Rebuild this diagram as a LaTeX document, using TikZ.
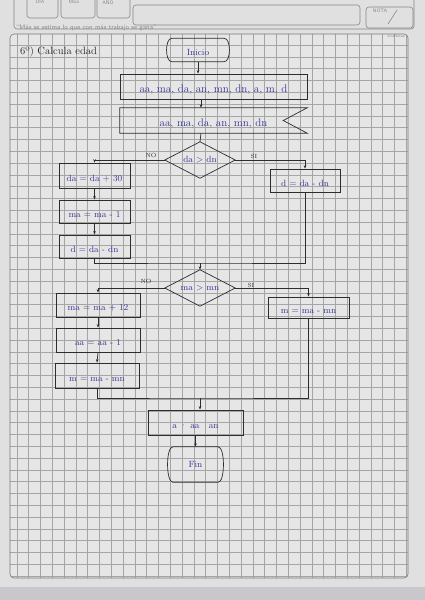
\documentclass[tikz,border=0pt]{standalone}
\usetikzlibrary{arrows.meta}
\definecolor{paper}{RGB}{224,224,224}
\definecolor{paperin}{RGB}{230,230,230}
\definecolor{edgec}{RGB}{202,199,204}
\definecolor{gridc}{RGB}{165,165,165}
\definecolor{framec}{RGB}{120,120,120}
\definecolor{printc}{RGB}{135,135,135}
\definecolor{ink}{RGB}{55,55,150}
\definecolor{pen}{RGB}{45,45,45}
\begin{document}
\begin{tikzpicture}[x=1pt,y=-1pt,
  line/.style={draw=pen,line width=0.7pt},
  arr/.style={line,-{Stealth[length=3.5pt,width=2.6pt]}},
  low/.style={text height=13pt,text depth=2pt},
  box/.style={line,low,minimum width=#1,minimum height=24pt,inner sep=0pt,text=ink,font=\fontsize{9}{10}\selectfont},
  plain/.style={inner sep=0pt,text=ink,font=\fontsize{9}{10}\selectfont},
  lab/.style={inner sep=0pt,text=pen,font=\fontsize{6}{7}\selectfont},
  printed/.style={inner sep=0pt,text=printc,font=\sffamily\fontsize{5}{6}\selectfont},
  gridline/.style={draw=gridc,line width=0.3pt},
  hdr/.style={draw=printc,line width=0.6pt,rounded corners=3pt}]
\useasboundingbox (0,0) rectangle (425,600);
% paper
\fill[paper] (0,0) rectangle (425,600);
\fill[edgec] (0,587) rectangle (425,600);
\fill[paperin,rounded corners=4pt] (10,34) rectangle (408,578);
\begin{scope}
  \clip[rounded corners=4pt] (10,34) rectangle (408,578);
  \foreach \k in {0,...,35} \draw[gridline] ({4.9+\k*11.8},30) -- ({4.9+\k*11.8},585);
  \foreach \k in {2,...,49} \draw[gridline] (5,{9.5+\k*11.8}) -- (415,{9.5+\k*11.8});
\end{scope}
\draw[framec,line width=0.6pt,rounded corners=4pt] (10,34) rectangle (408,578);
% header
\draw[hdr] (14,-6) rectangle (414,29);
\draw[hdr] (27,-6) rectangle (58,18);
\draw[hdr] (61,-6) rectangle (95,18);
\draw[hdr] (97,-6) rectangle (130,18);
\draw[hdr] (133,5) rectangle (360,25);
\draw[hdr] (366,7) rectangle (413,28);
\draw[printc,line width=0.6pt] (397,10) -- (388,24);
\node[printed] (tdia) at (40,2) {DIA};
\node[printed] (tmes) at (74,2) {MES};
\node[printed] (tano) at (108,2) {AÑO};
\node[printed] (tnota) at (380,11) {NOTA};
\node[printed,font=\sffamily\fontsize{6.5}{7}\selectfont,anchor=west] (quote) at (16,28) {“Más se estima lo que con más trabajo se gana”};
\node[printed,font=\sffamily\fontsize{4}{5}\selectfont] (brand) at (396,36) {vivaNotas};
% title
\node[inner sep=0pt,text=pen,font=\fontsize{10.5}{11}\selectfont,anchor=west] (title) at (20,52) {6º) Calcula edad};
% column coordinate
\coordinate (cx) at (201,0);
% start
\node[plain,low,minimum width=62pt,minimum height=23pt] (ini) at (198,50) {Inicio};
\draw[line] ([xshift=5pt]ini.north west) -- ([xshift=-5pt]ini.north east)
  .. controls ([xshift=2pt]ini.north east) and ([xshift=2pt]ini.south east) .. ([xshift=-5pt]ini.south east)
  -- ([xshift=5pt]ini.south west)
  .. controls ([xshift=-2pt]ini.south west) and ([xshift=-2pt]ini.north west) .. cycle;
% input
\node[box=187pt,minimum height=25pt,font=\fontsize{11}{12}\selectfont] (in1) at (213.5,86.5) {aa, ma, da, an, mn, dn, a, m, d};
% output
\node[plain,low,minimum width=187pt,minimum height=25pt,font=\fontsize{11}{12}\selectfont] (out1) at (213.5,120.5) {aa, ma, da, an, mn, dn\hspace{20pt}};
\draw[line] (out1.north west) -- (out1.north east) -- ([xshift=-24pt]out1.east) -- (out1.south east) -- (out1.south west) -- cycle;
% decision 1
\node[plain,minimum width=70pt,minimum height=36pt] (d1) at (200,160) {da > dn};
\draw[line] (d1.north) -- (d1.east) -- (d1.south) -- (d1.west) -- cycle;
\node[lab] (no1) at (151,155) {NO};
\node[lab] (si1) at (254,156) {SI};
\node[box=71pt,minimum height=25pt] (a1) at (94.5,175.5) {da = da + 30};
\node[box=71pt,minimum height=23pt] (a2) at (94.5,211.5) {ma = ma - 1};
\node[box=71pt,minimum height=23pt] (a3) at (94.5,246.5) {d = da - dn};
\node[box=70pt,minimum height=23pt] (b1) at (305,180.5) {d = da - dn};
\coordinate (m1) at (200,263);
% decision 2
\node[plain,minimum width=70pt,minimum height=36pt] (d2) at (200,288) {ma > mn};
\draw[line] (d2.north) -- (d2.east) -- (d2.south) -- (d2.west) -- cycle;
\node[lab] (no2) at (146,281) {NO};
\node[lab] (si2) at (251,285) {SI};
\node[box=84pt,minimum height=24pt] (c1) at (98,305) {ma = ma + 12};
\node[box=84pt,minimum height=24pt] (c2) at (98,340) {aa = aa - 1};
\node[box=84pt,minimum height=25pt] (c3) at (97,375.5) {m = ma - mn};
\node[box=81pt,minimum height=21pt] (e1) at (308.5,307.5) {m = ma - mn};
\coordinate (m2) at (200,398);
% output 2 and end
\node[box=95pt,minimum height=25pt] (o2) at (195.5,422.5) {a · aa \ \ an};
\node[plain,minimum width=55pt,minimum height=35pt] (fin) at (195.5,464.5) {Fin};
\draw[line] ([xshift=5pt]fin.north west) -- ([xshift=-5pt]fin.north east)
  .. controls ([xshift=2pt]fin.north east) and ([xshift=2pt]fin.south east) .. ([xshift=-5pt]fin.south east)
  -- ([xshift=5pt]fin.south west)
  .. controls ([xshift=-2pt]fin.south west) and ([xshift=-2pt]fin.north west) .. cycle;
% connectors
\draw[arr] (ini.south) -- (ini.south |- in1.north);
\draw[arr] (cx |- in1.south) -- (cx |- out1.north);
\draw[line] (cx |- out1.south) -- (d1.north);
\draw[arr] (d1.west) -| (a1.north);
\draw[arr] (d1.east) -| (b1.north);
\draw[arr] (a1.south) -- (a2.north);
\draw[arr] (a2.south) -- (a3.north);
\draw[line] (a3.south) |- (m1) -| (b1.south);
\draw[arr] (m1) -- (d2.north);
\draw[arr] (d2.west) -| (c1.north);
\draw[arr] (d2.east) -| (e1.north);
\draw[arr] (c1.south) -- (c2.north);
\draw[arr] (c2.south) -- (c3.north);
\draw[line] (c3.south) |- (m2) -| (e1.south);
\draw[arr] (m2) -- (m2 |- o2.north);
\draw[arr] (o2.south) -- (fin.north);
\end{tikzpicture}
\end{document}
